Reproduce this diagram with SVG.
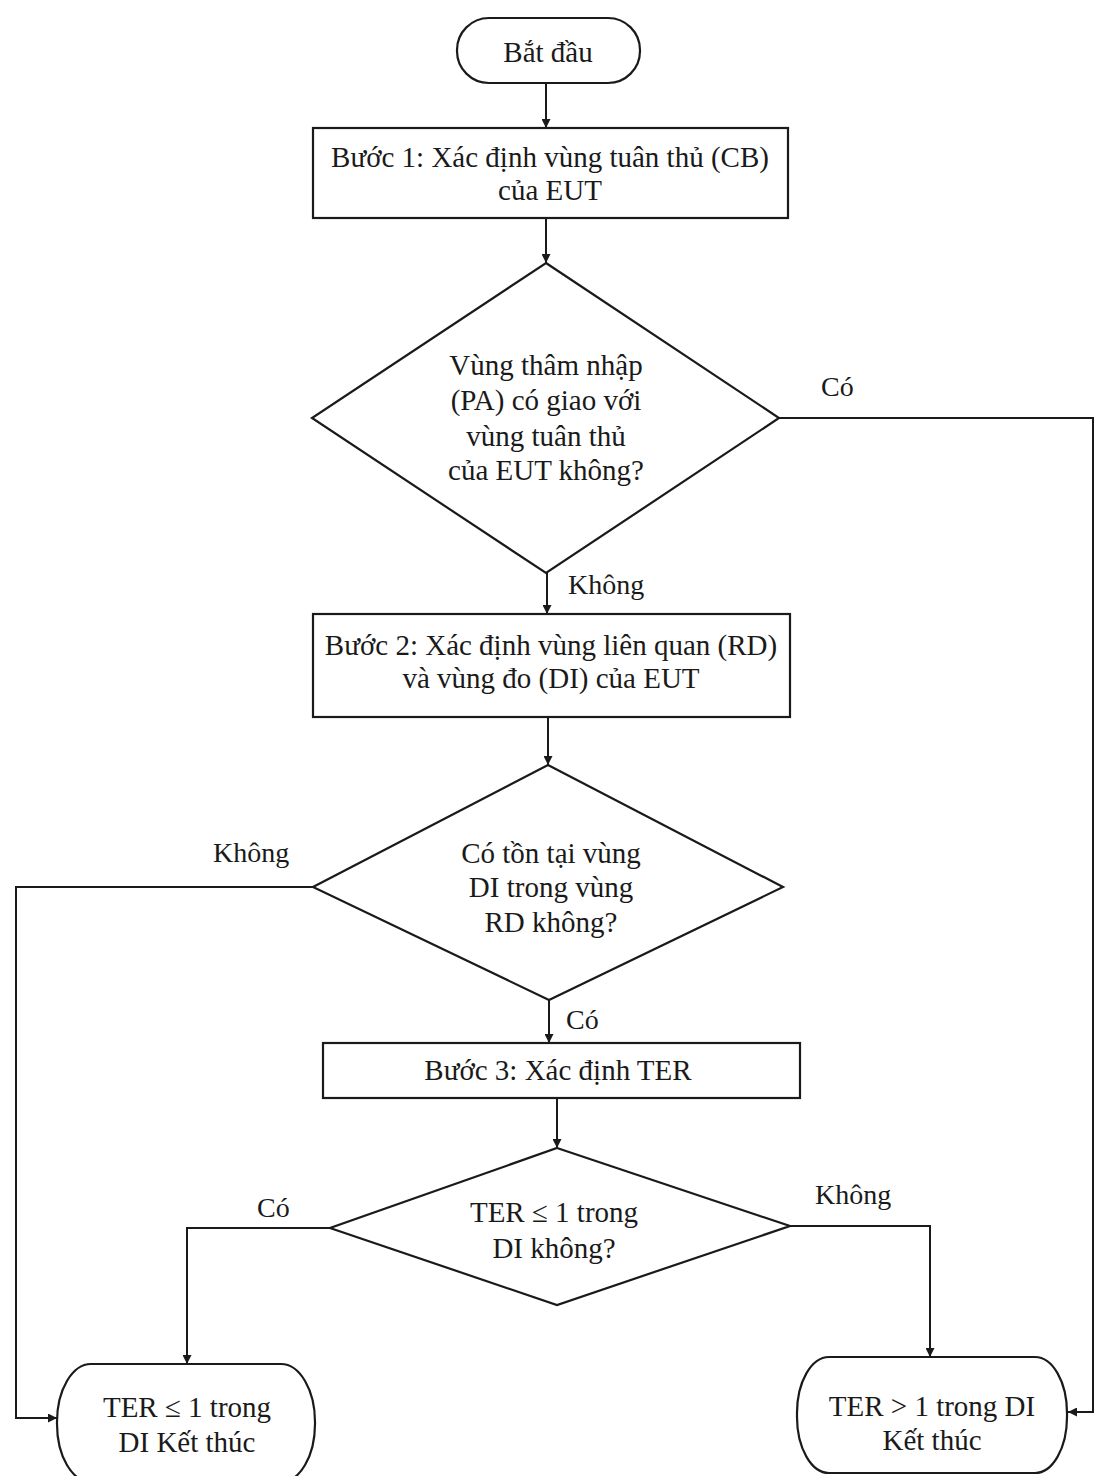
<svg xmlns="http://www.w3.org/2000/svg" width="1096" height="1476" viewBox="0 0 1096 1476">
<style>
.shape{fill:#fff;stroke:#1a1a1a;stroke-width:2.2}
.t{font-family:"Liberation Serif","Times New Roman",serif;font-size:29px;fill:#1a1a1a;text-anchor:middle}
.lbl{font-family:"Liberation Serif","Times New Roman",serif;font-size:28px;fill:#1a1a1a}
.c{fill:none;stroke:#1a1a1a;stroke-width:2}
</style>
<defs>
<marker id="arr" viewBox="0 0 10 10" refX="10" refY="5" markerWidth="9" markerHeight="9" markerUnits="userSpaceOnUse" orient="auto">
<path d="M0,0 L10,5 L0,10 z" fill="#1a1a1a"/>
</marker>
</defs>
<rect width="1096" height="1476" fill="#fff"/>

<g id="connectors">
<line class="c" x1="546" y1="83" x2="546" y2="128" marker-end="url(#arr)"/>
<line class="c" x1="546" y1="218" x2="546" y2="263" marker-end="url(#arr)"/>
<line class="c" x1="547" y1="573" x2="547" y2="614" marker-end="url(#arr)"/>
<path class="c" d="M779,418 H1093 V1412 H1068" marker-end="url(#arr)"/>
<line class="c" x1="548" y1="717" x2="548" y2="765" marker-end="url(#arr)"/>
<path class="c" d="M313,887 H16 V1418 H57" marker-end="url(#arr)"/>
<line class="c" x1="549" y1="1000" x2="549" y2="1043" marker-end="url(#arr)"/>
<line class="c" x1="557" y1="1098" x2="557" y2="1148" marker-end="url(#arr)"/>
<path class="c" d="M330,1228 H187 V1364" marker-end="url(#arr)"/>
<path class="c" d="M790,1226 H930 V1357" marker-end="url(#arr)"/>
<text class="lbl" x="821" y="396">Có</text>
<text class="lbl" x="568" y="594">Không</text>
<text class="lbl" x="213" y="862">Không</text>
<text class="lbl" x="566" y="1029">Có</text>
<text class="lbl" x="257" y="1217">Có</text>
<text class="lbl" x="815" y="1204">Không</text>
</g>

<g id="start">
<rect class="shape" x="457" y="18" width="183" height="65" rx="32" ry="32"/>
<text class="t" x="548" y="62">Bắt đầu</text>
</g>

<g id="step1">
<rect class="shape" x="313" y="128" width="475" height="90"/>
<text class="t" x="550" y="167">Bước 1: Xác định vùng tuân thủ (CB)</text>
<text class="t" x="550" y="200">của EUT</text>
</g>

<g id="decision1">
<polygon class="shape" points="546,263 779,418 546,573 312,418"/>
<text class="t" x="546" y="375">Vùng thâm nhập</text>
<text class="t" x="546" y="410">(PA) có giao với</text>
<text class="t" x="546" y="446">vùng tuân thủ</text>
<text class="t" x="546" y="480">của EUT không?</text>
</g>

<g id="step2">
<rect class="shape" x="313" y="614" width="477" height="103"/>
<text class="t" x="551" y="655">Bước 2: Xác định vùng liên quan (RD)</text>
<text class="t" x="551" y="688">và vùng đo (DI) của EUT</text>
</g>

<g id="decision2">
<polygon class="shape" points="548,765 783,887 549,1000 313,887"/>
<text class="t" x="551" y="863">Có tồn tại vùng</text>
<text class="t" x="551" y="897">DI trong vùng</text>
<text class="t" x="551" y="932">RD không?</text>
</g>

<g id="step3">
<rect class="shape" x="323" y="1043" width="477" height="55"/>
<text class="t" x="558" y="1080">Bước 3: Xác định TER</text>
</g>

<g id="decision3">
<polygon class="shape" points="557,1148 790,1226 557,1305 330,1228"/>
<text class="t" x="554" y="1222">TER ≤ 1 trong</text>
<text class="t" x="554" y="1258">DI không?</text>
</g>

<g id="end-yes">
<rect class="shape" x="57" y="1364" width="258" height="118" rx="34" ry="58"/>
<text class="t" x="187" y="1417">TER ≤ 1 trong</text>
<text class="t" x="187" y="1452">DI Kết thúc</text>
</g>

<g id="end-no">
<rect class="shape" x="797" y="1357" width="270" height="116" rx="32" ry="56"/>
<text class="t" x="932" y="1416">TER &gt; 1 trong DI</text>
<text class="t" x="932" y="1450">Kết thúc</text>
</g>
</svg>
